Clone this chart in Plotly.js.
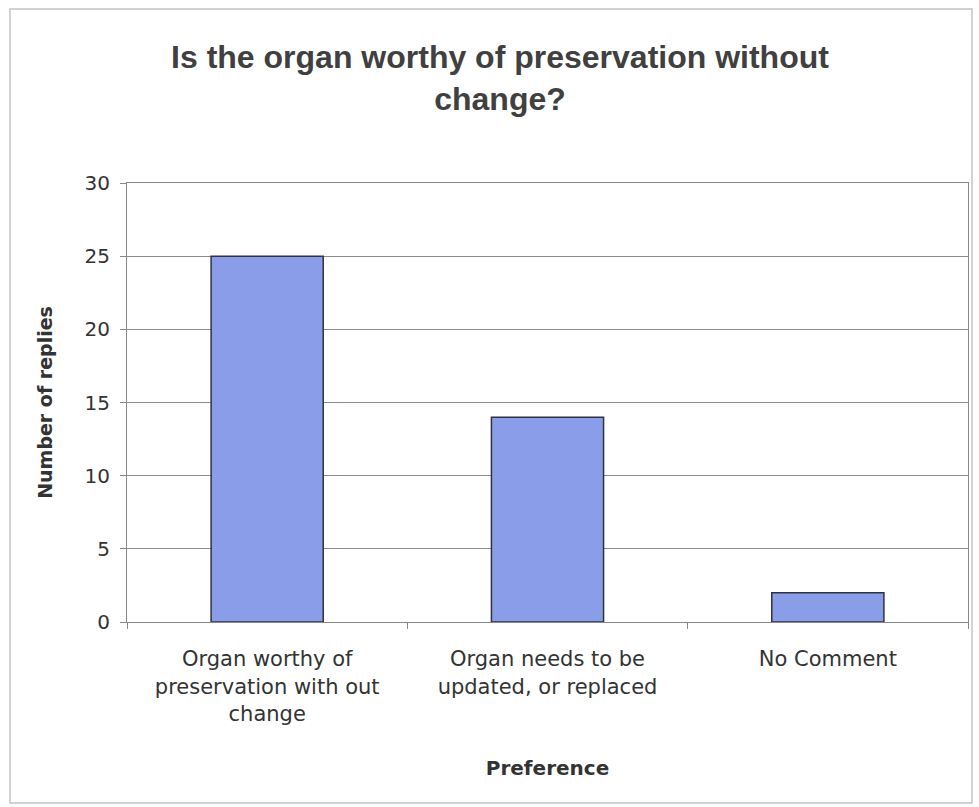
<!DOCTYPE html>
<html>
<head>
<meta charset="utf-8">
<script src="https://cdn.plot.ly/plotly-3.0.1.min.js"></script>
<style>html,body{margin:0;padding:0;background:#fff;}#chart{width:979px;height:807px;}</style>
</head>
<body>
<div id="chart"></div>
<script>
const categories = [
  "Organ worthy of<br>preservation with out<br>change",
  "Organ needs to be<br>updated, or replaced",
  "No Comment"
];
const replies = [25, 14, 2];
const yTicks = [0, 5, 10, 15, 20, 25, 30];

const W = 979, H = 807;
const m = {l: 127, r: 11, t: 183, b: 185};
const pw = W - m.l - m.r, ph = H - m.t - m.b;
const px = v => (v - m.l) / pw;
const py = v => (H - m.b - v) / ph;

const data = [{
  type: 'bar',
  x: categories,
  y: replies,
  marker: {color: '#8a9de8', line: {color: '#2f3340', width: 1.5}},
  hoverinfo: 'x+y'
}];

const layout = {
  width: W, height: H,
  margin: m,
  paper_bgcolor: '#ffffff',
  plot_bgcolor: '#ffffff',
  showlegend: false,
  bargap: 0.6,
  font: {family: 'DejaVu Sans, sans-serif', color: '#333333'},
  title: {
    text: 'Is the organ worthy of preservation without<br>change?',
    font: {family: 'Liberation Sans, Arial, sans-serif', size: 32, color: '#404040', weight: 'bold'},
    x: 500 / W, xref: 'container', xanchor: 'center',
    y: 1 - 68 / H, yref: 'container', yanchor: 'middle'
  },
  xaxis: {
    type: 'category',
    showline: true, linecolor: '#888888', linewidth: 1, mirror: true,
    ticks: 'outside', ticklen: 6, tickcolor: '#888888', tickson: 'boundaries',
    tickfont: {family: 'DejaVu Sans, sans-serif', size: 21, color: '#333333'},
    ticklabelstandoff: 18,
    showgrid: false,
    title: {text: 'Preference', font: {family: 'DejaVu Sans, sans-serif', size: 20, color: '#333333', weight: 'bold'}, standoff: 36}
  },
  yaxis: {
    range: [0, 30],
    tickvals: yTicks,
    showline: true, linecolor: '#888888', linewidth: 1, mirror: true,
    ticks: 'outside', ticklen: 6, tickcolor: '#888888',
    tickfont: {family: 'DejaVu Sans, sans-serif', size: 20, color: '#333333'},
    ticklabelstandoff: 6,
    showgrid: true, gridcolor: '#8c8c8c', gridwidth: 1,
    zeroline: false,
    title: {text: 'Number of replies', font: {family: 'DejaVu Sans, sans-serif', size: 19, color: '#333333', weight: 'bold'}, standoff: 26}
  },
  shapes: [{
    type: 'rect', xref: 'paper', yref: 'paper',
    x0: px(10), x1: px(972), y0: py(803), y1: py(9),
    line: {color: '#c4c4c4', width: 1.5}, fillcolor: 'rgba(0,0,0,0)', layer: 'below'
  }]
};

Plotly.newPlot('chart', data, layout, {displayModeBar: false, staticPlot: true});
</script>
</body>
</html>
